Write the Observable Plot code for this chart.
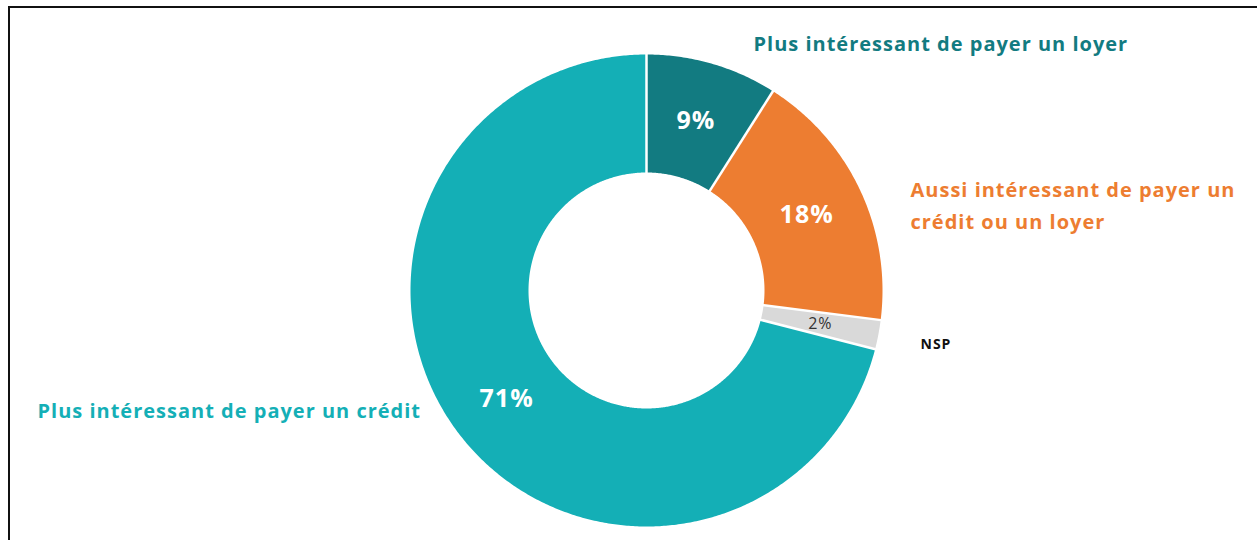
<!DOCTYPE html>
<html>
<head>
<meta charset="utf-8">
<script src="https://cdn.jsdelivr.net/npm/d3@7"></script>
<script src="https://cdn.jsdelivr.net/npm/@observablehq/plot@0.6"></script>
<style>
  html, body { margin: 0; padding: 0; background: #fff; overflow: hidden; }
  #wrap { position: relative; width: 1257px; height: 540px; }
  #frame { position: absolute; left: 8px; top: 6px; width: 1260px; height: 560px;
           border-left: 2px solid #111; border-top: 2px solid #111; box-sizing: border-box; }
  #chart { position: absolute; left: 0; top: 0; }
  svg { font-family: "Open Sans", Lato, sans-serif; }
  svg text { letter-spacing: 1px; }
</style>
</head>
<body>
<div id="wrap"><div id="frame"></div><div id="chart"></div></div>
<script>
// ---- data ----
const categories = [
  "Plus intéressant de payer un loyer",
  "Aussi intéressant de payer un crédit ou un loyer",
  "NSP",
  "Plus intéressant de payer un crédit"
];
const values = [9, 18, 2, 71];
const colors = ["#127B81", "#ED7D31", "#D9D9D9", "#14AFB6"];
const valueLabels = ["9%", "18%", "2%", "71%"];

// ---- layout ----
const W = 1257, H = 540;
const cx = 646, cy = 290, Rpx = 236;   // center & outer radius in pixels
const innerRatio = 0.5;

const pie = d3.pie().sort(null).value(d => d.value)
  .startAngle(0).endAngle(2 * Math.PI);
const arcs = pie(categories.map((c, i) => ({ cat: c, value: values[i], color: colors[i], label: valueLabels[i] })));

const pt = (a, r) => ({ x: Math.sin(a) * r, y: Math.cos(a) * r });

const polyPts = [];
arcs.forEach(a => {
  const n = Math.max(4, Math.ceil((a.endAngle - a.startAngle) / (Math.PI / 360)));
  const pts = [];
  for (let k = 0; k <= n; k++) pts.push(pt(a.startAngle + (a.endAngle - a.startAngle) * k / n, 1));
  for (let k = n; k >= 0; k--) pts.push(pt(a.startAngle + (a.endAngle - a.startAngle) * k / n, innerRatio));
  pts.forEach(p => polyPts.push({ ...p, cat: a.data.cat, color: a.data.color }));
});

const seps = arcs.map(a => {
  const p0 = pt(a.startAngle, innerRatio - 0.01), p1 = pt(a.startAngle, 1.01);
  return { x1: p0.x, y1: p0.y, x2: p1.x, y2: p1.y };
});

const centroidR = (1 + innerRatio) / 2;
const pctLabels = arcs.map((a, i) => {
  const m = (a.startAngle + a.endAngle) / 2;
  const p = pt(m, centroidR);
  return { ...p, text: a.data.label, small: a.data.value < 5 };
});

// category label anchors (unit-radius coords, relative to center)
const u = v => v / Rpx;
const catLabels = [
  { x: u(753 - cx), y: u(cy - 40), text: categories[0], fill: colors[0], anchor: "start", size: 20 },
  { x: u(910 - cx), y: u(cy - 202), text: "Aussi intéressant de payer un\ncrédit ou un loyer", fill: colors[1], anchor: "start", size: 20 },
  { x: u(920 - cx), y: u(cy - 341), text: categories[2], fill: "#111", anchor: "start", size: 14 },
  { x: u(37 - cx), y: u(cy - 407), text: categories[3], fill: colors[3], anchor: "start", size: 20 }
];

const chart = Plot.plot({
  width: W, height: H,
  margin: 0,
  x: { domain: [-cx / Rpx, (W - cx) / Rpx], axis: null },
  y: { domain: [-(H - cy) / Rpx, cy / Rpx], axis: null },
  style: { background: "transparent" },
  marks: [
    Plot.line(polyPts, { x: "x", y: "y", z: "cat", fill: "color", stroke: "none", curve: "linear" }),
    Plot.link(seps, { x1: "x1", y1: "y1", x2: "x2", y2: "y2", stroke: "white", strokeWidth: 2.5 }),
    Plot.text(pctLabels.filter(d => !d.small), { x: "x", y: "y", text: "text", fill: "white", fontSize: 25, fontWeight: "bold" }),
    Plot.text(pctLabels.filter(d => d.small), { x: "x", y: "y", text: "text", fill: "#333", fontSize: 16 }),
    ...catLabels.map(d => Plot.text([d], { x: "x", y: "y", text: "text", fill: d.fill, textAnchor: d.anchor, fontSize: d.size, fontWeight: "bold", lineHeight: 1.6 }))
  ]
});
document.getElementById("chart").appendChild(chart);
</script>
</body>
</html>
